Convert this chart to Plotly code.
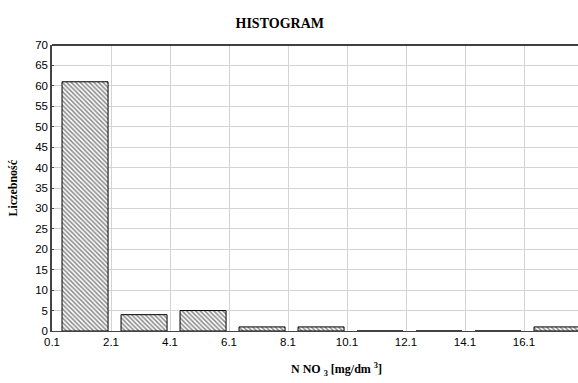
import plotly.graph_objects as go

bin_starts = [0.1, 2.1, 4.1, 6.1, 8.1, 10.1, 12.1, 14.1, 16.1]
counts = [61, 4, 5, 1, 1, 0, 0, 0, 1]
x_ticks = [0.1, 2.1, 4.1, 6.1, 8.1, 10.1, 12.1, 14.1, 16.1]
y_ticks = list(range(0, 75, 5))

centers = [b + 1.0 for b in bin_starts]

fig = go.Figure()
fig.add_trace(go.Bar(
    x=centers, y=counts, width=1.56, offset=-0.66,
    marker=dict(color="white", line=dict(color="black", width=1),
                pattern=dict(shape="\\", fgcolor="#1a1a1a", bgcolor="white", size=3.2, solidity=0.5)),
))

fig.update_layout(
    width=578, height=383,
    margin=dict(l=52, r=0, t=45, b=52, autoexpand=False),
    plot_bgcolor="white", paper_bgcolor="white",
    showlegend=False,
    title=dict(text="<b>HISTOGRAM</b>", x=0.484, xanchor="center", y=0.94, yanchor="middle",
               font=dict(family="Liberation Serif", size=14, color="black")),
    xaxis=dict(range=[0.1, 17.93], tickvals=x_ticks, ticktext=[str(t) for t in x_ticks],
               automargin=False,
               showgrid=True, gridcolor="#d3d3d3", gridwidth=1, zeroline=False,
               showline=True, linecolor="#444444", linewidth=1, ticks="",
               tickfont=dict(family="Arial", size=11.5, color="black")),
    yaxis=dict(range=[0, 70], tickvals=y_ticks, automargin=False,
               showgrid=True, gridcolor="#d3d3d3", gridwidth=1,
               zeroline=False, showline=True, linecolor="#444444", linewidth=1.5,
               ticks="inside", ticklen=2, tickcolor="#444444",
               tickfont=dict(family="Arial", size=11.5, color="black")),
)
fig.add_annotation(text="<b>N NO <sub>3</sub> [mg/dm <sup>3</sup>]</b>", xref="paper", yref="paper",
                   x=0.54, y=-0.135, xanchor="center", yanchor="middle", showarrow=False,
                   font=dict(family="Liberation Serif", size=12, color="black"))
fig.add_annotation(text="<b>Liczebność</b>", xref="paper", yref="paper", textangle=-90,
                   x=-0.075, y=0.5, xanchor="center", yanchor="middle", showarrow=False,
                   font=dict(family="Liberation Serif", size=12, color="black"))
fig.add_shape(type="line", xref="paper", yref="paper", x0=0, x1=1, y0=1, y1=1,
              line=dict(color="black", width=1.5))
fig.write_html("out.html", config={"displayModeBar": False},
               post_script="document.body.style.margin='0';")
